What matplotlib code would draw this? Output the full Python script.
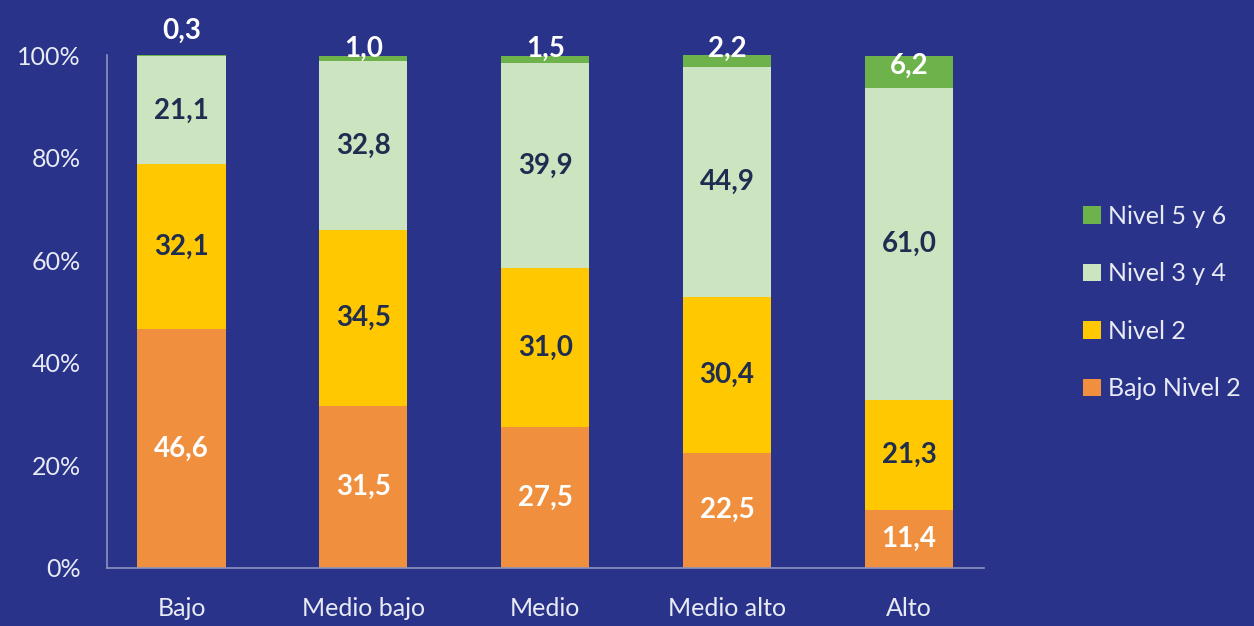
import matplotlib
matplotlib.use("Agg")
import matplotlib.pyplot as plt
import numpy as np

categories = ["Bajo", "Medio bajo", "Medio", "Medio alto", "Alto"]
bajo_nivel2 = [46.6, 31.5, 27.5, 22.5, 11.4]
nivel2 = [32.1, 34.5, 31.0, 30.4, 21.3]
nivel34 = [21.1, 32.8, 39.9, 44.9, 61.0]
nivel56 = [0.3, 1.0, 1.5, 2.2, 6.2]
series_names = ["Bajo Nivel 2", "Nivel 2", "Nivel 3 y 4", "Nivel 5 y 6"]
yticks = [0, 20, 40, 60, 80, 100]
ytick_labels = ["0%", "20%", "40%", "60%", "80%", "100%"]

bg = "#29338A"
colors = ["#F0903F", "#FFC800", "#CDE4C0", "#6DB24A"]
label_colors = ["white", "#1F2D50", "#1F2D50", "white"]

plt.rcParams['font.family'] = ['Lato', 'DejaVu Sans']

fig = plt.figure(figsize=(12.54, 6.26), dpi=100, facecolor=bg)
ax = fig.add_axes([0.0853, 0.0927, 0.699, 0.819])
ax.set_facecolor(bg)

x = np.arange(len(categories))
width = 0.485
data = [bajo_nivel2, nivel2, nivel34, nivel56]
bottom = np.zeros(len(categories))
handles = []
for vals, col, lc, name in zip(data, colors, label_colors, series_names):
    vals = np.array(vals)
    b = ax.bar(x, vals, width, bottom=bottom, color=col, label=name)
    handles.append(b)
    for xi, v, bt in zip(x, vals, bottom):
        if name == "Nivel 5 y 6":
            if v < 0.5:
                y = 104.8
            elif v < 3:
                y = 101.2
            else:
                y = bt + v / 2 + 1.2
        else:
            y = bt + v / 2
        ax.text(xi, y, f"{v:.1f}".replace(".", ","), ha="center", va="center",
                color=lc, fontsize=20, fontweight="bold")
    bottom = bottom + vals

ax.set_xlim(-0.41, 4.41)
ax.set_ylim(0, 100)
ax.set_yticks(yticks)
ax.set_yticklabels(ytick_labels)
ax.set_xticks(x)
ax.set_xticklabels(categories)
ax.tick_params(axis="y", length=0, pad=19, labelsize=18, colors="#E8EAF4")
ax.tick_params(axis="x", length=0, pad=21, labelsize=18, colors="#E8EAF4")
for s in ["top", "right"]:
    ax.spines[s].set_visible(False)
for s in ["left", "bottom"]:
    ax.spines[s].set_color("#8C92BE")
    ax.spines[s].set_linewidth(1.2)

leg = fig.legend(handles=handles[::-1], labels=series_names[::-1],
                 loc="center left", bbox_to_anchor=(0.846, 0.517),
                 frameon=False, fontsize=18, labelcolor="#E8EAF4",
                 handlelength=0.7, handleheight=0.7, handletextpad=0.3,
                 labelspacing=1.38)

fig.savefig("out.png", dpi=100, facecolor=bg)
